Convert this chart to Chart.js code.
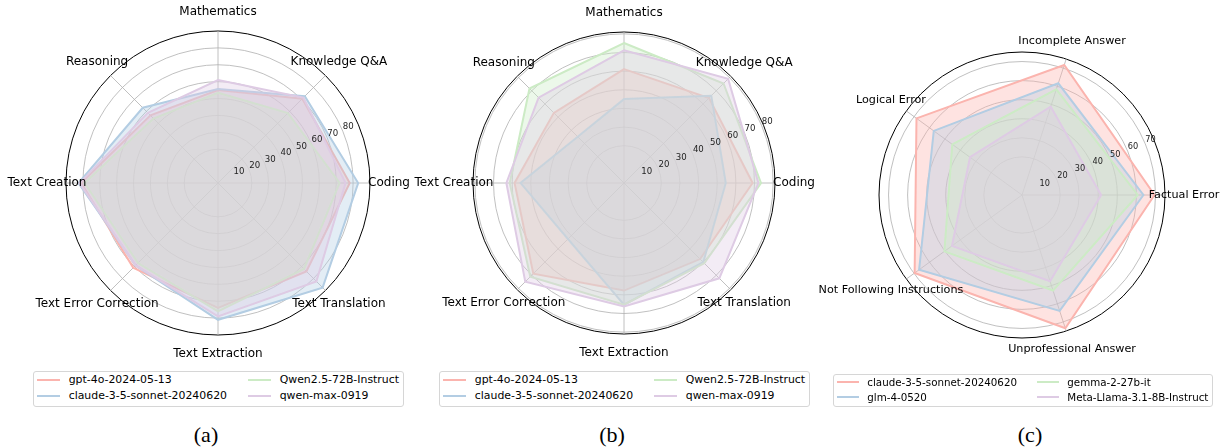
<!DOCTYPE html>
<html>
<head>
<meta charset="utf-8">
<script src="https://cdn.jsdelivr.net/npm/chart.js@4/dist/chart.umd.min.js"></script>
<style>
  body { margin: 0; background: #fff; width: 1226px; height: 448px; position: relative; overflow: hidden; font-family: 'DejaVu Sans', sans-serif; }
  canvas { position: absolute; top: 0; }
  .legend { position: absolute; border: 1px solid #d6d6d6; border-radius: 3px; box-sizing: border-box; background: #fff; }
  .handle { position: absolute; height: 2px; }
  .text { position: absolute; white-space: nowrap; line-height: 1; transform: translateY(-50%); color: #000; }
  .cap { position: absolute; top: 423px; font-family: 'Liberation Serif', serif; font-size: 22px; line-height: 24px; transform: translateX(-50%); }
</style>
</head>
<body>
<canvas id="chartA" width="410" height="365" style="left:0px"></canvas>
<canvas id="chartB" width="420" height="365" style="left:410px"></canvas>
<canvas id="chartC" width="426" height="365" style="left:800px"></canvas>
<div class="cap" style="left:206px">(a)</div>
<div class="cap" style="left:612px">(b)</div>
<div class="cap" style="left:1030px">(c)</div>
<script>
// --- data ---
// task axes, clockwise from the top
const taskLabels = ['Mathematics', 'Knowledge Q&A', 'Coding', 'Text Translation', 'Text Extraction', 'Text Error Correction', 'Text Creation', 'Reasoning'];
const modelNamesAB = ['gpt-4o-2024-05-13', 'claude-3-5-sonnet-20240620', 'Qwen2.5-72B-Instruct', 'qwen-max-0919'];

// (a)
const gpt4oA   = [55, 70.6, 78, 74, 74, 71, 81, 56.6];
const claudeA  = [55.7, 72.7, 83, 87.6, 81, 69, 82.6, 63];
const qwen25A  = [53.4, 58.5, 72, 72, 76, 67, 79, 54];
const qwenMaxA = [61, 71.5, 75.5, 82.4, 79, 69, 82, 58.7];

// (b)
const gpt4oB   = [61.1, 64.5, 69, 57.7, 57.7, 68.8, 58.7, 53.2];
const claudeB  = [45, 66.2, 54.6, 60.1, 65.3, 42.5, 55.5, 35.1];
const qwen25B  = [75.1, 75.5, 73.5, 60.9, 65.3, 71.1, 61.3, 71.7];
const qwenMaxB = [71.2, 79, 72.1, 72.3, 66.2, 74.9, 63.1, 64.8];

// (c) error types, clockwise from the right
const errorLabels = ['Factual Error', 'Unprofessional Answer', 'Not Following Instructions', 'Logical Error', 'Incomplete Answer'];
const modelNamesC = ['claude-3-5-sonnet-20240620', 'glm-4-0520', 'gemma-2-27b-it', 'Meta-Llama-3.1-8B-Instruct'];
const claudeC = [69.5, 73.5, 69.6, 68.4, 71.7];
const glmC    = [63.7, 63.9, 66.7, 57.2, 61.6];
const gemmaC  = [60.7, 52.7, 50.3, 45.2, 58.3];
const llamaC  = [41.5, 47.6, 45.4, 33.7, 48.7];

const tickLabelsAB = [10, 20, 30, 40, 50, 60, 70, 80];
const tickLabelsC = [10, 20, 30, 40, 50, 60, 70];

const lineColors = ['#fbb4ae', '#b3cde3', '#ccebc5', '#decbe4'];
const fillColors = ['rgba(251,180,174,0.37)', 'rgba(179,205,227,0.37)', 'rgba(204,235,197,0.37)', 'rgba(222,203,228,0.37)'];

// axis names centred outside the ring, r tick labels at 22.5 degrees
const overlay = {
  id: 'overlay',
  afterDraw(chart, args, opts) {
    const s = chart.scales.r;
    const ctx = chart.ctx;
    ctx.save();
    ctx.fillStyle = '#000';
    ctx.font = opts.labelSize + 'px "DejaVu Sans"';
    ctx.textAlign = 'center';
    ctx.textBaseline = 'middle';
    chart.data.labels.forEach((lab, i) => {
      const p = s.getPointPosition(i, s.drawingArea + opts.labelGap);
      ctx.fillText(lab, p.x, p.y);
    });
    ctx.font = opts.tickSize + 'px "DejaVu Sans"';
    ctx.fillStyle = '#222';
    ctx.textAlign = 'left';
    ctx.textBaseline = 'bottom';
    const a = 22.5 * Math.PI / 180;
    opts.tickLabels.forEach(v => {
      const d = s.getDistanceFromCenterForValue(v);
      ctx.fillText(String(v), s.xCenter + d * Math.cos(a), s.yCenter - d * Math.sin(a));
    });
    ctx.restore();
  }
};

function radar(id, cfg) {
  const max = cfg.max;
  return new Chart(document.getElementById(id), {
    type: 'radar',
    data: {
      labels: cfg.labels,
      datasets: cfg.series.map((d, i) => ({
        label: cfg.names[i],
        data: d,
        borderColor: lineColors[i],
        backgroundColor: fillColors[i],
        borderWidth: 2,
        pointRadius: 0,
        pointHoverRadius: 0,
        fill: 'origin',
        tension: 0,
        order: cfg.series.length - i
      }))
    },
    options: {
      responsive: false,
      animation: false,
      layout: { padding: cfg.padding },
      plugins: {
        legend: { display: false },
        tooltip: { enabled: false },
        overlay: { labelSize: cfg.labelSize, labelGap: 19, tickSize: cfg.tickSize, tickLabels: cfg.tickLabels }
      },
      scales: {
        r: {
          min: 0,
          max: max,
          startAngle: cfg.startAngle,
          ticks: { display: false, stepSize: 10 },
          afterBuildTicks: (scale) => {
            scale.ticks = cfg.tickLabels.concat([max]).map(v => ({ value: v }));
          },
          grid: {
            circular: true,
            color: c => (c.tick && c.tick.value === max) ? '#000' : '#b0b0b0',
            lineWidth: c => (c.tick && c.tick.value === max) ? 1 : 0.8
          },
          angleLines: { color: '#b0b0b0', lineWidth: 0.8 },
          pointLabels: { display: false }
        }
      }
    },
    plugins: [overlay]
  });
}

radar('chartA', {
  labels: taskLabels, names: modelNamesAB,
  series: [gpt4oA, claudeA, qwen25A, qwenMaxA],
  max: 90, tickLabels: tickLabelsAB, startAngle: 0,
  labelSize: 12, tickSize: 8.6,
  padding: { left: 66, right: 40, top: 31, bottom: 30 }
});

radar('chartB', {
  labels: taskLabels, names: modelNamesAB,
  series: [gpt4oB, claudeB, qwen25B, qwenMaxB],
  max: 81, tickLabels: tickLabelsAB, startAngle: 0,
  labelSize: 12, tickSize: 8.6,
  padding: { left: 63, right: 55, top: 32, bottom: 31 }
});

radar('chartC', {
  labels: errorLabels, names: modelNamesC,
  series: [claudeC, glmC, gemmaC, llamaC],
  max: 75, tickLabels: tickLabelsC, startAngle: 90,
  labelSize: 11.2, tickSize: 8.2,
  padding: { left: 79, right: 61, top: 52, bottom: 27 }
});

// legends, two columns, in a rounded frame
function legend(names, box) {
  const el = document.createElement('div');
  el.className = 'legend';
  el.style.left = box.left + 'px';
  el.style.top = box.top + 'px';
  el.style.width = box.width + 'px';
  el.style.height = box.height + 'px';
  names.forEach((name, i) => {
    const col = Math.floor(i / 2), row = i % 2;
    const h = document.createElement('div');
    h.className = 'handle';
    h.style.left = box.handleX[col] + 'px';
    h.style.top = (box.rows[row] - 1) + 'px';
    h.style.width = box.handleLen + 'px';
    h.style.background = lineColors[i];
    el.appendChild(h);
    const t = document.createElement('div');
    t.className = 'text';
    t.style.left = box.textX[col] + 'px';
    t.style.top = box.rows[row] + 'px';
    t.style.fontSize = box.fontSize + 'px';
    t.textContent = name;
    el.appendChild(t);
  });
  document.body.appendChild(el);
}

legend(modelNamesAB, { left: 32.7, top: 371, width: 371, height: 35.5, rows: [8, 24], handleX: [3, 214.5], textX: [35, 246], handleLen: 23, fontSize: 10.9 });
legend(modelNamesAB, { left: 438.8, top: 371, width: 371, height: 35.5, rows: [8, 24], handleX: [3, 214.5], textX: [35, 246], handleLen: 23, fontSize: 10.9 });
legend(modelNamesC, { left: 833.3, top: 373.5, width: 380, height: 33, rows: [7.3, 22.6], handleX: [3, 203], textX: [33, 233], handleLen: 22, fontSize: 10.3 });
</script>
</body>
</html>
